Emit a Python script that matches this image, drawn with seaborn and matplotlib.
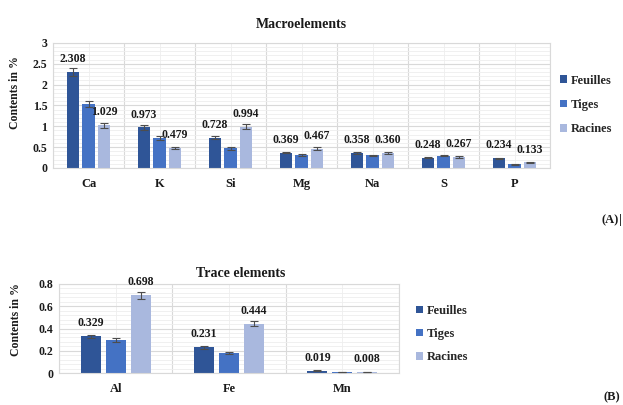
import numpy as np
import pandas as pd
import matplotlib
matplotlib.use("Agg")
import matplotlib.pyplot as plt
from matplotlib.ticker import MultipleLocator, FixedLocator, FuncFormatter
import seaborn as sns

# ---------------- data ----------------
organs = ["Feuilles", "Tiges", "Racines"]

macro_elements = ["Ca", "K", "Si", "Mg", "Na", "S", "P"]
macro_feuilles = [2.308, 0.973, 0.728, 0.369, 0.358, 0.248, 0.234]
macro_tiges = [1.540, 0.720, 0.470, 0.315, 0.300, 0.290, 0.085]
macro_racines = [1.029, 0.479, 0.994, 0.467, 0.360, 0.267, 0.133]
macro_err_feuilles = [0.10, 0.06, 0.03, 0.012, 0.025, 0.012, 0.010]
macro_err_tiges = [0.07, 0.04, 0.03, 0.020, 0.012, 0.012, 0.010]
macro_err_racines = [0.06, 0.02, 0.06, 0.025, 0.030, 0.030, 0.006]

trace_elements = ["Al", "Fe", "Mn"]
trace_feuilles = [0.329, 0.231, 0.019]
trace_tiges = [0.295, 0.180, 0.007]
trace_racines = [0.698, 0.444, 0.008]
trace_err_feuilles = [0.015, 0.015, 0.004]
trace_err_tiges = [0.020, 0.008, 0.002]
trace_err_racines = [0.030, 0.020, 0.002]

colors = ["#2F5597", "#4472C4", "#A9B8DE"]

FONT = "Liberation Serif"
sns.set_theme(style="white")
plt.rcParams["font.family"] = [FONT, "DejaVu Serif"]
plt.rcParams["font.weight"] = "bold"

fig = plt.figure(figsize=(6.23, 4.05), dpi=100)
W, H = 623.0, 405.0


def make_axes(left, top, right, bottom):
    return fig.add_axes([left / W, 1 - bottom / H, (right - left) / W, (bottom - top) / H])


def draw_panel(ax, elements, fe, ti, ra, efe, eti, era, ymax, major, minor, title,
               title_x, title_pad, ylab_off, leg_x, leg_y, leg_spacing):
    df = pd.DataFrame({
        "element": elements * 3,
        "organ": [organs[0]] * len(elements) + [organs[1]] * len(elements) + [organs[2]] * len(elements),
        "value": list(fe) + list(ti) + list(ra),
    })
    sns.barplot(data=df, x="element", y="value", hue="organ", order=elements,
                hue_order=organs, palette=colors, width=0.66, gap=0.2,
                errorbar=None, ax=ax, saturation=1, edgecolor="none")
    errs = [efe, eti, era]
    vals = [fe, ti, ra]
    conts = list(ax.containers)[:3]
    for k, cont in enumerate(conts):
        bars = [b for b in cont if b is not None]
        xs = [b.get_x() + b.get_width() / 2 for b in bars]
        hs = [b.get_height() for b in bars]
        ax.errorbar(xs, hs, yerr=errs[k], fmt="none", ecolor="#4D4D4D",
                    elinewidth=0.8, capsize=3, capthick=0.8, zorder=4)
        if k in (0, 2):
            for x, h, v in zip(xs, hs, vals[k]):
                ax.annotate(f"{v:.3f}", (x, h), xytext=(0, 5), textcoords="offset points",
                            ha="center", va="bottom", fontsize=8.5, fontweight="bold",
                            color="#1A1A1A", family=FONT)
    n = len(elements)
    ax.set_xlim(-0.5, n - 0.5)
    ax.set_ylim(0, ymax)
    ax.yaxis.set_major_locator(MultipleLocator(major))
    ax.yaxis.set_minor_locator(MultipleLocator(minor))
    ax.yaxis.set_major_formatter(FuncFormatter(lambda v, p: f"{v:g}"))
    ax.xaxis.set_minor_locator(FixedLocator(np.arange(n + 1) - 0.5))
    ax.grid(True, which="major", axis="y", color="#D9D9D9", linewidth=0.8)
    ax.grid(True, which="minor", axis="y", color="#EEEEEE", linewidth=0.6)
    ax.grid(True, which="minor", axis="x", color="#D9D9D9", linewidth=0.8)
    ax.grid(True, which="major", axis="x", color="#EEEEEE", linewidth=0.6)
    ax.set_axisbelow(True)
    for s in ax.spines.values():
        s.set_color("#D9D9D9")
        s.set_linewidth(0.8)
    ax.tick_params(axis="both", which="both", length=0, pad=4)
    for lab in ax.get_xticklabels():
        lab.set_fontsize(9)
        lab.set_fontweight("bold")
        lab.set_color("#1A1A1A")
    ax.tick_params(axis="x", pad=7)
    for lab in ax.get_yticklabels():
        lab.set_fontsize(8.5)
        lab.set_fontweight("bold")
        lab.set_color("#1A1A1A")
    ax.set_xlabel("")
    ax.set_ylabel("Contents in %", fontsize=8.5, fontweight="bold", color="#1A1A1A")
    ax.yaxis.set_label_coords(-ylab_off / (ax.get_position().width * W), 0.6)
    ax.set_title(title, fontsize=10, fontweight="bold", color="#1A1A1A", pad=title_pad, x=title_x)
    handles, labels = ax.get_legend_handles_labels()
    if ax.get_legend() is not None:
        ax.get_legend().remove()
    fig.legend(handles[:3], labels[:3], loc="center left", bbox_to_anchor=(leg_x / W, 1 - leg_y / H),
               frameon=False, handlelength=0.55, handleheight=0.55, handletextpad=0.3,
               labelspacing=leg_spacing, borderaxespad=0, borderpad=0,
               prop={"family": FONT, "weight": "bold", "size": 9})


ax1 = make_axes(53, 43, 550, 168)
draw_panel(ax1, macro_elements, macro_feuilles, macro_tiges, macro_racines,
           macro_err_feuilles, macro_err_tiges, macro_err_racines,
           3, 0.5, 0.1, "Macroelements", 0.5, 11, 32, 560, 105, 1.0)

ax2 = make_axes(59, 284, 399, 373)
draw_panel(ax2, trace_elements, trace_feuilles, trace_tiges, trace_racines,
           trace_err_feuilles, trace_err_tiges, trace_err_racines,
           0.8, 0.2, 0.04, "Trace elements", 0.535, 5, 37, 416, 334, 0.9)

fig.text(602 / W, 1 - 220 / H, "(A)", fontsize=9, fontweight="bold", ha="left", va="center",
         color="#1A1A1A", family=FONT)
fig.text(619 / W, 1 - 220 / H, "|", fontsize=9, ha="left", va="center", color="#1A1A1A",
         family=FONT)
fig.text(603 / W, 1 - 397 / H, "(B)", fontsize=9, fontweight="bold", ha="left", va="center",
         color="#1A1A1A", family=FONT)

fig.savefig("out.png", dpi=100, facecolor="white")
